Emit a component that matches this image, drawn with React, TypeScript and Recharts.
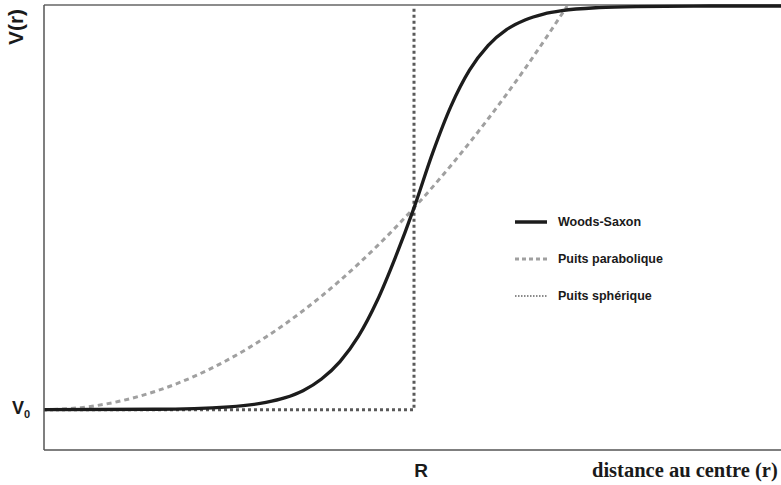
import React from 'react';
import { LineChart, Line, XAxis, YAxis, Legend, ReferenceLine } from 'recharts';

// ---- data ----
const xTicks = [1];
const xTickLabels = ['R'];
const yTicks = [-1];
const yTickLabels = ['V'];
const yTickSub = ['0'];

const woodsSaxonR = [0, 0.3, 0.5, 0.6, 0.65, 0.7, 0.75, 0.8, 0.85, 0.9, 0.95, 1.0, 1.05, 1.1, 1.15, 1.2, 1.25, 1.3, 1.35, 1.4, 1.5, 1.6, 1.8, 2.0];
const woodsSaxonV = [-1, -0.999, -0.993, -0.982, -0.971, -0.953, -0.924, -0.881, -0.818, -0.731, -0.622, -0.5, -0.365, -0.248, -0.159, -0.098, -0.0585, -0.0345, -0.02, -0.0116, -0.0039, -0.0013, 0, 0];

const parabolicR = [0, 0.1, 0.2, 0.3, 0.4, 0.5, 0.6, 0.7, 0.8, 0.9, 1.0, 1.1, 1.2, 1.3, 1.414];
const parabolicV = [-1, -0.995, -0.98, -0.955, -0.92, -0.875, -0.82, -0.755, -0.68, -0.595, -0.5, -0.395, -0.28, -0.155, 0];

const sphericalR = [0, 1, 1];
const sphericalV = [-1, -1, 0];

const seriesNames = ['Woods-Saxon', 'Puits parabolique', 'Puits sphérique'];
const yDomainTop = 0.0025;

const toRows = (rs: number[], vs: number[]) => rs.map((r, i) => ({ r, v: vs[i] }));
const woodsSaxonData = toRows(woodsSaxonR, woodsSaxonV);
const parabolicData = toRows(parabolicR, parabolicV);
const sphericalData = toRows(sphericalR, sphericalV);

const SANS = '"Liberation Sans", Arial, sans-serif';
const SERIF = '"Liberation Serif", "Times New Roman", serif';

const legendStyle: Record<string, { color: string; width: number; dash?: string }> = {
  'Woods-Saxon': { color: '#1c1c1c', width: 3.5 },
  'Puits parabolique': { color: '#a0a0a0', width: 3, dash: '4 3' },
  'Puits sphérique': { color: '#8a8a8a', width: 2, dash: '1.5 1.5' },
};

const XTick = (props: any) => {
  const { x, y, payload } = props;
  const idx = xTicks.indexOf(payload.value);
  return (
    <text x={x + 7} y={y + 19} textAnchor="middle" fontFamily={SANS} fontWeight="bold" fontSize={19} fill="#1a1a1a">
      {xTickLabels[idx]}
    </text>
  );
};

const YTick = (props: any) => {
  const { y, payload } = props;
  const idx = yTicks.indexOf(payload.value);
  return (
    <text x={12} y={y + 4} textAnchor="start" fontFamily={SANS} fontWeight="bold" fontSize={18} fill="#1a1a1a">
      {yTickLabels[idx]}
      <tspan fontSize={11} dy={4}>{yTickSub[idx]}</tspan>
    </text>
  );
};

const YLabel = (props: any) => {
  const vb = props.viewBox || { x: 0, y: 5 };
  const cx = vb.x + 15;
  const cy = vb.y + 22;
  return (
    <text x={cx} y={cy} transform={`rotate(-90 ${cx} ${cy})`} textAnchor="middle" dominantBaseline="central"
      fontFamily={SANS} fontWeight="bold" fontSize={21} fill="#1a1a1a">
      V(r)
    </text>
  );
};

const XLabel = (props: any) => {
  const vb = props.viewBox || { x: 44, y: 450 };
  return (
    <text x={vb.x + 548} y={vb.y + 27} textAnchor="start" fontFamily={SERIF} fontWeight="bold" fontSize={20.5} fill="#1a1a1a">
      distance au centre (r)
    </text>
  );
};

const LegendContent = (props: any) => {
  const payload: any[] = props.payload || [];
  const ordered = seriesNames
    .map((n) => payload.find((p) => p.value === n))
    .filter(Boolean);
  return (
    <div style={{ display: 'flex', flexDirection: 'column' }}>
      {ordered.map((p: any) => {
        const st = legendStyle[p.value];
        return (
          <div key={p.value} style={{ display: 'flex', alignItems: 'center', height: 37 }}>
            <svg width={34} height={10} style={{ marginRight: 10 }}>
              <line x1={1} y1={5} x2={33} y2={5} stroke={st.color} strokeWidth={st.width} strokeDasharray={st.dash} />
            </svg>
            <span style={{ fontFamily: SANS, fontWeight: 'bold', fontSize: 12.5, color: '#1a1a1a' }}>{p.value}</span>
          </div>
        );
      })}
    </div>
  );
};

export default function App() {
  return (
    <div style={{ position: 'absolute', left: 0, top: 0, width: 781, height: 485, overflow: 'hidden', background: '#ffffff' }}>
      <LineChart width={784} height={485} margin={{ top: 5, right: 0, bottom: 0, left: 0 }}>
        <XAxis
          type="number"
          dataKey="r"
          domain={[0, 2]}
          ticks={xTicks}
          tick={<XTick />}
          tickLine={false}
          axisLine={{ stroke: '#555', strokeWidth: 1.5 }}
          height={35}
          label={<XLabel />}
        />
        <YAxis
          type="number"
          dataKey="v"
          domain={[-1.1, yDomainTop]}
          ticks={yTicks}
          tick={<YTick />}
          tickLine={false}
          axisLine={{ stroke: '#555', strokeWidth: 1.5 }}
          width={44}
          label={<YLabel />}
        />
        <ReferenceLine y={yDomainTop} stroke="#666" strokeWidth={1.5} ifOverflow="extendDomain" />
        <Legend
          layout="vertical"
          align="center"
          verticalAlign="middle"
          content={<LegendContent />}
          wrapperStyle={{ position: 'absolute', left: 514, top: 203, width: 200 }}
        />
        <Line
          data={parabolicData}
          dataKey="v"
          name={seriesNames[1]}
          type="monotone"
          stroke="#a0a0a0"
          strokeWidth={3}
          strokeDasharray="5 4"
          dot={false}
          isAnimationActive={false}
        />
        <Line
          data={sphericalData}
          dataKey="v"
          name={seriesNames[2]}
          type="linear"
          stroke="#5a5a5a"
          strokeWidth={3}
          strokeDasharray="3 3"
          dot={false}
          isAnimationActive={false}
        />
        <Line
          data={woodsSaxonData}
          dataKey="v"
          name={seriesNames[0]}
          type="monotone"
          stroke="#1c1c1c"
          strokeWidth={3.3}
          dot={false}
          isAnimationActive={false}
        />
      </LineChart>
    </div>
  );
}
